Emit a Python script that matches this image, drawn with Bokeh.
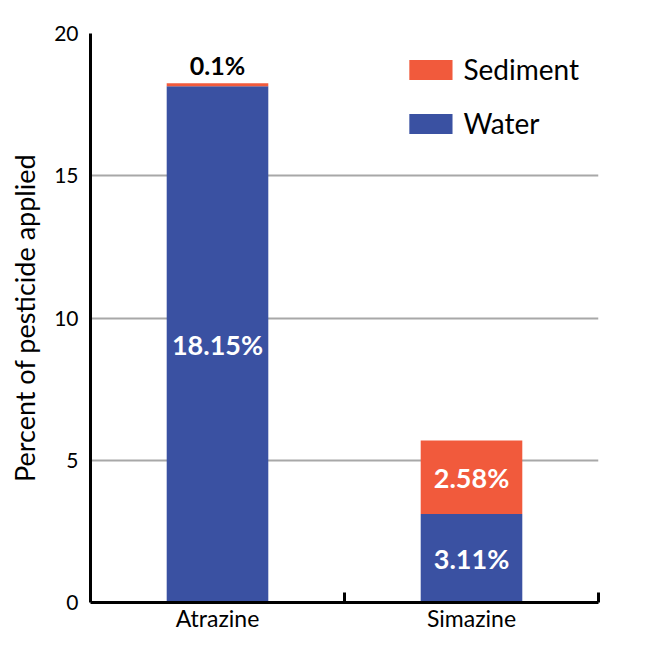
from bokeh.plotting import figure
from bokeh.models import Range1d, FixedTicker, Legend, LegendItem
from bokeh.embed import file_html
from bokeh.resources import INLINE
from bokeh.core.properties import value

# data
categories = ["Atrazine", "Simazine"]
water = [18.15, 3.11]
sediment = [0.1, 2.58]
water_labels = ["18.15%", "3.11%"]
sediment_labels = ["0.1%", "2.58%"]
y_ticks = [0, 5, 10, 15, 20]

BLUE = "#3A51A2"
RED = "#F15A3C"
FONT = "Lato"

xs = [i + 0.5 for i in range(len(categories))]
top_total = [w + s for w, s in zip(water, sediment)]

p = figure(frame_width=508, frame_height=569,
           min_border_left=90, min_border_right=54,
           min_border_top=33, min_border_bottom=43,
           x_range=Range1d(0, len(categories)), y_range=Range1d(0, 20),
           toolbar_location=None, tools="", output_backend="svg")
p.outline_line_color = None
p.background_fill_color = "white"

# bars
r_water = p.vbar(x=xs, bottom=0, top=water, width=0.4, fill_color=BLUE, line_color=None)
r_sed = p.vbar(x=xs, bottom=water, top=top_total, width=0.4, fill_color=RED, line_color=None)

# labels inside / above the bars
# big sediment part -> label in middle, tiny one -> label above the bar
sed_in = [i for i, s in enumerate(sediment) if s > 1]
sed_out = [i for i, s in enumerate(sediment) if s <= 1]

p.text(x=xs, y=[w / 2 for w in water], text=water_labels,
       text_color="white", text_font=value(FONT), text_font_style="bold",
       text_font_size="27px", text_align="center", text_baseline="middle")
p.text(x=[xs[i] for i in sed_in], y=[water[i] + sediment[i] / 2 for i in sed_in],
       text=[sediment_labels[i] for i in sed_in],
       text_color="white", text_font=value(FONT), text_font_style="bold",
       text_font_size="27px", text_align="center", text_baseline="middle")
p.text(x=[xs[i] for i in sed_out], y=[top_total[i] for i in sed_out],
       text=[sediment_labels[i] for i in sed_out], y_offset=-3,
       text_color="black", text_font=value(FONT), text_font_style="bold",
       text_font_size="25px", text_align="center", text_baseline="bottom")

# x axis: names under bars, ticks between the groups
xa = p.xaxis[0]
xa.ticker = FixedTicker(ticks=xs, minor_ticks=[i + 1 for i in range(len(categories))])
xa.major_label_overrides = {x: c for x, c in zip(xs, categories)}
xa.major_tick_line_color = None
xa.minor_tick_in = 10
xa.minor_tick_out = 0
xa.minor_tick_line_width = 3
xa.minor_tick_line_color = "black"
xa.axis_line_width = 3
xa.axis_line_color = "black"
xa.major_label_text_font = FONT
xa.major_label_text_font_size = "23px"
xa.major_label_text_color = "black"
xa.major_label_standoff = -5

# y axis
ya = p.yaxis[0]
ya.ticker = FixedTicker(ticks=y_ticks)
ya.axis_line_width = 3
ya.axis_line_color = "black"
ya.major_tick_line_color = None
ya.minor_tick_line_color = None
ya.major_label_text_font = FONT
ya.major_label_text_font_size = "21px"
ya.major_label_text_color = "black"
ya.major_label_standoff = 6
ya.axis_label = "Percent of pesticide applied"
ya.axis_label_text_font = FONT
ya.axis_label_text_font_size = "27px"
ya.axis_label_text_font_style = "normal"
ya.axis_label_text_color = "black"
ya.axis_label_standoff = 10

p.xgrid.grid_line_color = None
p.ygrid.grid_line_color = "#A8A8A8"
p.ygrid.grid_line_width = 2
p.ygrid.ticker = FixedTicker(ticks=y_ticks[1:])

legend = Legend(items=[LegendItem(label="Sediment", renderers=[r_sed]),
                       LegendItem(label="Water", renderers=[r_water])],
                location="top_right")
legend.border_line_color = None
legend.background_fill_alpha = 0
legend.glyph_width = 54
legend.glyph_height = 25
legend.label_text_font = FONT
legend.label_text_font_size = "28px"
legend.label_text_color = "black"
legend.label_standoff = 6
legend.spacing = 20
legend.margin = 19
legend.padding = 8
p.add_layout(legend)

open("out.html", "w").write(file_html(p, INLINE))
